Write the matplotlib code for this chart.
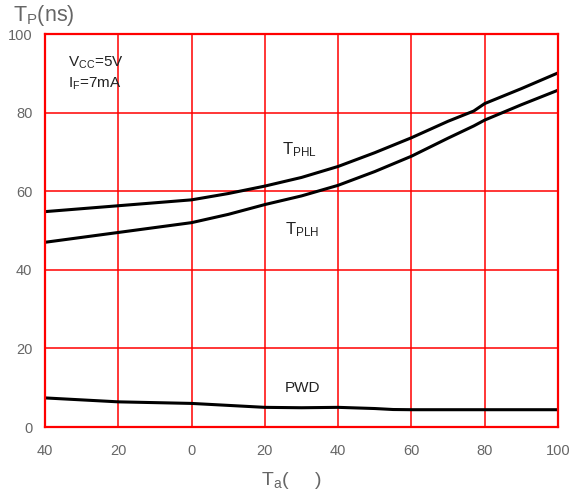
import matplotlib
matplotlib.use("Agg")
import matplotlib.pyplot as plt

# values
temps = [-40, -20, 0, 10, 20, 30, 40, 50, 60, 70, 77, 80, 90, 100]
t_phl = [54.8, 56.3, 57.8, 59.4, 61.3, 63.5, 66.3, 69.8, 73.6, 77.8, 80.4, 82.3, 86.1, 90.1]
t_plh = [47.0, 49.5, 52.0, 54.1, 56.6, 58.8, 61.5, 65.0, 68.9, 73.5, 76.6, 78.1, 82.0, 85.7]

pwd_t = [-40, -20, 0, 10, 20, 30, 40, 50, 55, 60, 80, 100]
pwd = [7.4, 6.4, 6.0, 5.5, 5.0, 4.9, 5.0, 4.7, 4.45, 4.4, 4.4, 4.4]

xticks = [-40, -20, 0, 20, 40, 60, 80, 100]
xtick_labels = ["40", "20", "0", "20", "40", "60", "80", "100"]
yticks = [0, 20, 40, 60, 80, 100]

fam = "Liberation Sans"
plt.rcParams["font.family"] = [fam, "DejaVu Sans"]
plt.rcParams["mathtext.fontset"] = "custom"
plt.rcParams["mathtext.rm"] = fam
plt.rcParams["mathtext.it"] = fam

fig = plt.figure(figsize=(5.73, 4.90), dpi=100)
ax = fig.add_axes([45 / 573, 1 - 427 / 490, 513 / 573, 393 / 490])

ax.plot(temps, t_phl, color="black", lw=2.2, solid_capstyle="butt")
ax.plot(temps, t_plh, color="black", lw=2.2, solid_capstyle="butt")
ax.plot(pwd_t, pwd, color="black", lw=2.2, solid_capstyle="butt")

ax.set_xlim(-40, 100)
ax.set_ylim(0, 100)
ax.set_xticks(xticks)
ax.set_xticklabels(xtick_labels)
ax.set_yticks(yticks)
ax.grid(True, color="#ff0000", lw=1.1)
ax.set_axisbelow(True)
for s in ax.spines.values():
    s.set_color("#ff0000")
    s.set_linewidth(1.6)
ax.tick_params(length=0, labelsize=10.5, labelcolor="#666666")
ax.tick_params(axis="x", pad=12)
ax.tick_params(axis="y", pad=9)

tc = "#222222"
ax.text(-33.7, 91.7, r"$\mathregular{V_{CC}}$=5V", fontsize=11, color=tc)
ax.text(-33.7, 86.4, r"$\mathregular{I_F}$=7mA", fontsize=11, color=tc)
ax.text(24.6, 69.3, r"$\mathregular{T_{PHL}}$", fontsize=12, color=tc)
ax.text(25.4, 49.0, r"$\mathregular{T_{PLH}}$", fontsize=12, color=tc)
ax.text(25.4, 9.0, "PWD", fontsize=11, color=tc)

fig.text(292 / 573, 1 - 485 / 490, r"$\mathregular{T_a}$(     )", fontsize=14,
         color="#666666", ha="center", va="baseline")
fig.text(13 / 573, 1 - 21 / 490, r"$\mathregular{T_P}$(ns)", fontsize=15.5,
         color="#666666", ha="left", va="baseline")

fig.savefig("out.png", dpi=100)
